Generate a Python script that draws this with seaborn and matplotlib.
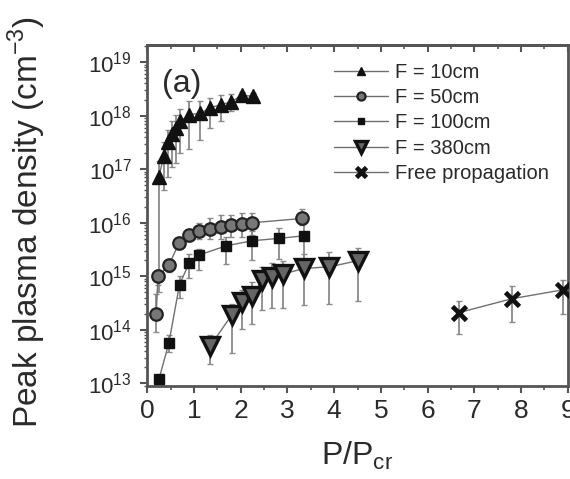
import numpy as np
import pandas as pd
import matplotlib
matplotlib.use("Agg")
import matplotlib.pyplot as plt
import matplotlib.ticker as mticker
import seaborn as sns

# ---- data ----
f10_x = [0.24, 0.36, 0.45, 0.52, 0.61, 0.70, 0.90, 1.13, 1.34, 1.57, 1.79, 2.02, 2.27]
f10_y = [7e16, 1.8e17, 3.2e17, 4.6e17, 6e17, 7.8e17, 1.05e18, 1.1e18, 1.4e18, 1.6e18, 1.8e18, 2.4e18, 2.3e18]
f10_lo = [5e14, 4e16, 7e16, 1.1e17, 1.3e17, 2e17, 2.4e17, 3.5e17, 5.8e17, 7.8e17, 1.2e18, 2.0e18, 2.0e18]
f10_hi = [1.4e17, 3.2e17, 5.5e17, 8e17, 1.05e18, 1.35e18, 1.85e18, 1.85e18, 2.1e18, 2.4e18, 2.5e18, 2.8e18, 2.6e18]

f50_x = [0.19, 0.23, 0.46, 0.68, 0.90, 1.11, 1.34, 1.57, 1.79, 2.02, 2.25, 3.31]
f50_y = [1.95e14, 1.0e15, 1.6e15, 4.2e15, 5.8e15, 7e15, 7.7e15, 8.3e15, 8.9e15, 9.6e15, 1.0e16, 1.2e16]
f50_lo = [9e13, 7e14, 1.2e15, 3.3e15, 4.5e15, 5e15, 5e15, 5e15, 5.5e15, 5.5e15, 6e15, 9e15]
f50_hi = [4.7e14, 1.3e15, 2e15, 5e15, 7e15, 1.0e16, 1.2e16, 1.4e16, 1.4e16, 1.5e16, 1.5e16, 1.8e16]

f100_x = [0.25, 0.46, 0.69, 0.90, 1.11, 1.69, 2.24, 2.81, 3.36]
f100_y = [1.2e13, 5.6e13, 7e14, 1.8e15, 2.5e15, 3.7e15, 4.6e15, 5.1e15, 5.7e15]
f100_lo = [1.1e13, 3.9e13, 4e14, 9.4e14, 1.3e15, 1.7e15, 2e15, 2.1e15, 1.5e15]
f100_hi = [1.3e13, 8e13, 1.0e15, 2.6e15, 3.3e15, 5.5e15, 7e15, 8e15, 1.0e16]

f380_x = [1.34, 1.81, 2.02, 2.24, 2.46, 2.68, 2.90, 3.36, 3.90, 4.50]
f380_y = [4.9e13, 1.9e14, 3.3e14, 4.2e14, 8.5e14, 9.8e14, 1.1e15, 1.4e15, 1.5e15, 1.95e15]
f380_lo = [2.3e13, 3.7e13, 1.05e14, 1.3e14, 2.3e14, 2.6e14, 2.6e14, 2.9e14, 3e14, 3.4e14]
f380_hi = [8e13, 3e14, 5.6e14, 7.7e14, 1.5e15, 1.8e15, 1.95e15, 2.6e15, 2.8e15, 3.4e15]

free_x = [6.68, 7.80, 8.91]
free_y = [2.1e14, 3.8e14, 5.6e14]
free_lo = [8.5e13, 1.4e14, 2e14]
free_hi = [3.5e14, 6.5e14, 8.5e14]

labels = ["F = 10cm", "F = 50cm", "F = 100cm", "F = 380cm", "Free propagation"]
x_ticks = [0, 1, 2, 3, 4, 5, 6, 7, 8, 9]

series = [
    (labels[0], f10_x, f10_y, f10_lo, f10_hi),
    (labels[1], f50_x, f50_y, f50_lo, f50_hi),
    (labels[2], f100_x, f100_y, f100_lo, f100_hi),
    (labels[3], f380_x, f380_y, f380_lo, f380_hi),
    (labels[4], free_x, free_y, free_lo, free_hi),
]

styles = {
    labels[0]: dict(marker="^", ms=9.5, mfc="#111111", mec="#111111", mew=1.0),
    labels[1]: dict(marker="o", ms=9, mfc="#777777", mec="#222222", mew=1.6),
    labels[2]: dict(marker="s", ms=7, mfc="#111111", mec="#111111", mew=1.0),
    labels[3]: dict(marker="v", ms=12.5, mfc="#666666", mec="#111111", mew=2.4),
    labels[4]: dict(marker="x", ms=10.5, mfc="#111111", mec="#111111", mew=3.4),
}

sns.set_theme(style="ticks")
plt.rcParams["font.family"] = ["Liberation Sans", "DejaVu Sans"]
plt.rcParams["text.color"] = "#2a2a2a"
plt.rcParams["axes.labelcolor"] = "#2a2a2a"

fig = plt.figure(figsize=(5.7, 4.79), dpi=100)
ax = fig.add_axes([147.3 / 570, 1 - 386 / 479, (567.7 - 147.3) / 570, (386 - 45) / 479])

for name, xs, ys, lo, hi in series:
    df = pd.DataFrame({"x": xs, "y": ys})
    ylo = np.array(ys) - np.array(lo)
    yhi = np.array(hi) - np.array(ys)
    ax.errorbar(xs, ys, yerr=[ylo, yhi], fmt="none", ecolor="#8a8a8a",
                elinewidth=1.3, capsize=2.5, capthick=1.0, zorder=2)
    st = styles[name]
    sns.lineplot(data=df, x="x", y="y", ax=ax, sort=False, estimator=None,
                 color="#707070", linewidth=1.0, marker=st["marker"],
                 markersize=st["ms"], markerfacecolor=st["mfc"],
                 markeredgecolor=st["mec"], markeredgewidth=st["mew"],
                 label=name, zorder=3)

ax.set_yscale("log")
ax.set_xlim(0, 9)
ax.set_ylim(10 ** 12.95, 10 ** 19.32)
ax.set_xticks(x_ticks)
ax.xaxis.set_minor_locator(mticker.MultipleLocator(0.5))
ax.yaxis.set_major_locator(mticker.LogLocator(base=10, numticks=20))
ax.yaxis.set_minor_locator(mticker.LogLocator(base=10, subs=np.arange(2, 10), numticks=20))
ax.yaxis.set_minor_formatter(mticker.NullFormatter())

for sp in ax.spines.values():
    sp.set_visible(True)
    sp.set_linewidth(2.0)
    sp.set_color("#555555")

ax.tick_params(axis="x", which="major", direction="out", length=5, width=1.5,
               labelsize=19, colors="#555555", labelcolor="#2a2a2a", pad=4)
ax.tick_params(axis="x", which="minor", direction="out", length=3, width=1.2, colors="#555555")
ax.tick_params(axis="y", which="major", direction="out", length=5, width=1.5,
               labelsize=16, colors="#555555", labelcolor="#2a2a2a", pad=6)
ax.tick_params(axis="y", which="minor", direction="out", length=2.5, width=1.0, colors="#555555")

# top ticks pointing inward
sec = ax.secondary_xaxis("top")
sec.set_xticks(x_ticks)
sec.xaxis.set_minor_locator(mticker.MultipleLocator(0.5))
sec.tick_params(axis="x", which="major", direction="in", length=5, width=1.5,
                colors="#555555", labeltop=False)
sec.tick_params(axis="x", which="minor", direction="in", length=3, width=1.2, colors="#555555")
sec.spines["top"].set_linewidth(2.0)
sec.spines["top"].set_color("#555555")

ax.set_xlabel("P/P$_{\\mathdefault{cr}}$", fontsize=23, labelpad=12)
ax.set_ylabel("Peak plasma density (cm$^{\\mathdefault{-3}}$)", fontsize=24)
ax.yaxis.set_label_coords((48 - 147.3) / 420.4, (386 - 222) / 341)

ax.text(162 / 570, 1 - 92 / 479, "(a)", transform=fig.transFigure, fontsize=23,
        ha="left", va="baseline", color="#2a2a2a")

leg = ax.legend(loc="upper left", bbox_to_anchor=(334 / 570, 1 - 63 / 479),
                bbox_transform=fig.transFigure, frameon=False, fontsize=14.5,
                handlelength=2.7, handletextpad=0.35, labelspacing=0.31,
                borderpad=0, borderaxespad=0, markerscale=0.65)
for t in leg.get_texts():
    t.set_color("#2a2a2a")

fig.savefig("out.png", dpi=100)
